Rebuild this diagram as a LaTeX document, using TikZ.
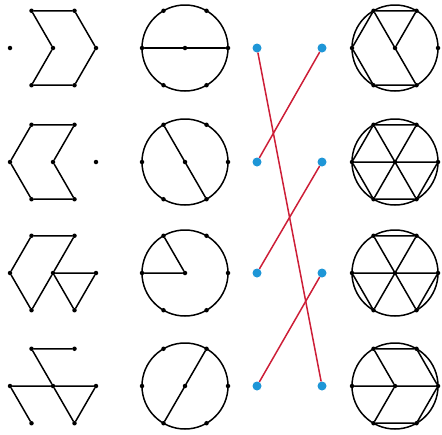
\documentclass[tikz,border=0pt]{standalone}
\usetikzlibrary{calc}

\definecolor{dotblue}{RGB}{30,150,215}
\definecolor{linkred}{RGB}{205,30,55}

\tikzset{
  edge/.style={line width=1.5pt, line join=round, line cap=round},
  vtx/.style={circle, fill=black, inner sep=0pt, minimum size=4.5pt},
  bluedot/.style={circle, fill=dotblue, inner sep=0pt, minimum size=9pt},
  link/.style={linkred, line width=1.5pt},
}

% seven points of a hexagon cell: #1-0 ... #1-5 (from the right, anticlockwise) and #1-c
\newcommand{\hexnodes}[3]{%
  \foreach \k in {0,...,5}
    \node[vtx] (#1-\k) at ({#2+43*cos(60*\k)}, {#3-43*sin(60*\k)}) {};
  \node[vtx] (#1-c) at (#2,#3) {};
}

\begin{document}
\begin{tikzpicture}[x=1pt, y=-1pt]
  \useasboundingbox (0,0) rectangle (442,434);

  \def\yA{48}
  \def\yB{162}
  \def\yC{273}
  \def\yD{386}

  % ===== Left column: pieces of the hexagon =====
  \hexnodes{a1}{53}{\yA}
  \hexnodes{a2}{53}{\yB}
  \hexnodes{a3}{53}{\yC}
  \hexnodes{a4}{53}{\yD}

  \draw[edge] (a1-2) -- (a1-1) -- (a1-0) -- (a1-5) -- (a1-4) -- (a1-c) -- (a1-2);
  \draw[edge] (a2-1) -- (a2-2) -- (a2-3) -- (a2-4) -- (a2-5) -- (a2-c) -- (a2-1);
  \draw[edge] (a3-1) -- (a3-2) -- (a3-3) -- (a3-4) -- (a3-c) -- (a3-1);
  \draw[edge] (a3-c) -- (a3-0) -- (a3-5) -- (a3-c);
  \draw[edge] (a4-1) -- (a4-2) -- (a4-c) -- (a4-5);
  \draw[edge] (a4-4) -- (a4-3) -- (a4-c) -- (a4-0) -- (a4-5);

  % ===== Second column: circles with chords =====
  \foreach \r/\y in {1/\yA, 2/\yB, 3/\yC, 4/\yD} {
    \draw[edge] (185,\y) circle[radius=43pt];
    \hexnodes{b\r}{185}{\y}
  }
  \draw[edge] (b1-3) -- (b1-0);
  \draw[edge] (b2-2) -- (b2-5);
  \draw[edge] (b3-3) -- (b3-c) -- (b3-2);
  \draw[edge] (b4-1) -- (b4-4);

  % ===== Middle: the matching =====
  \foreach \r/\y in {1/\yA, 2/\yB, 3/\yC, 4/\yD} {
    \node[bluedot] (l\r) at (257,\y) {};
    \node[bluedot] (r\r) at (322,\y) {};
  }
  \draw[link] (l1) -- (r4);
  \draw[link] (r1) -- (l2);
  \draw[link] (r2) -- (l3);
  \draw[link] (r3) -- (l4);

  % ===== Right column: circles with hexagon edges and spokes =====
  \foreach \r/\y in {1/\yA, 2/\yB, 3/\yC, 4/\yD} {
    \draw[edge] (395,\y) circle[radius=43pt];
    \hexnodes{d\r}{395}{\y}
  }
  \draw[edge] (d1-1) -- (d1-2) -- (d1-3) -- (d1-4) -- (d1-5);
  \draw[edge] (d1-2) -- (d1-5) (d1-c) -- (d1-1);

  \draw[edge] (d2-1) -- (d2-2) -- (d2-3) -- (d2-4) -- (d2-5) -- (d2-0);
  \draw[edge] (d2-0) -- (d2-3) (d2-1) -- (d2-4) (d2-2) -- (d2-5);

  \draw[edge] (d3-1) -- (d3-2) (d3-3) -- (d3-4) (d3-5) -- (d3-0);
  \draw[edge] (d3-0) -- (d3-3) (d3-1) -- (d3-4) (d3-2) -- (d3-5);

  \draw[edge] (d4-4) -- (d4-5) -- (d4-0) -- (d4-1) -- (d4-2);
  \draw[edge] (d4-3) -- (d4-0) (d4-c) -- (d4-2) (d4-c) -- (d4-4);
\end{tikzpicture}
\end{document}
